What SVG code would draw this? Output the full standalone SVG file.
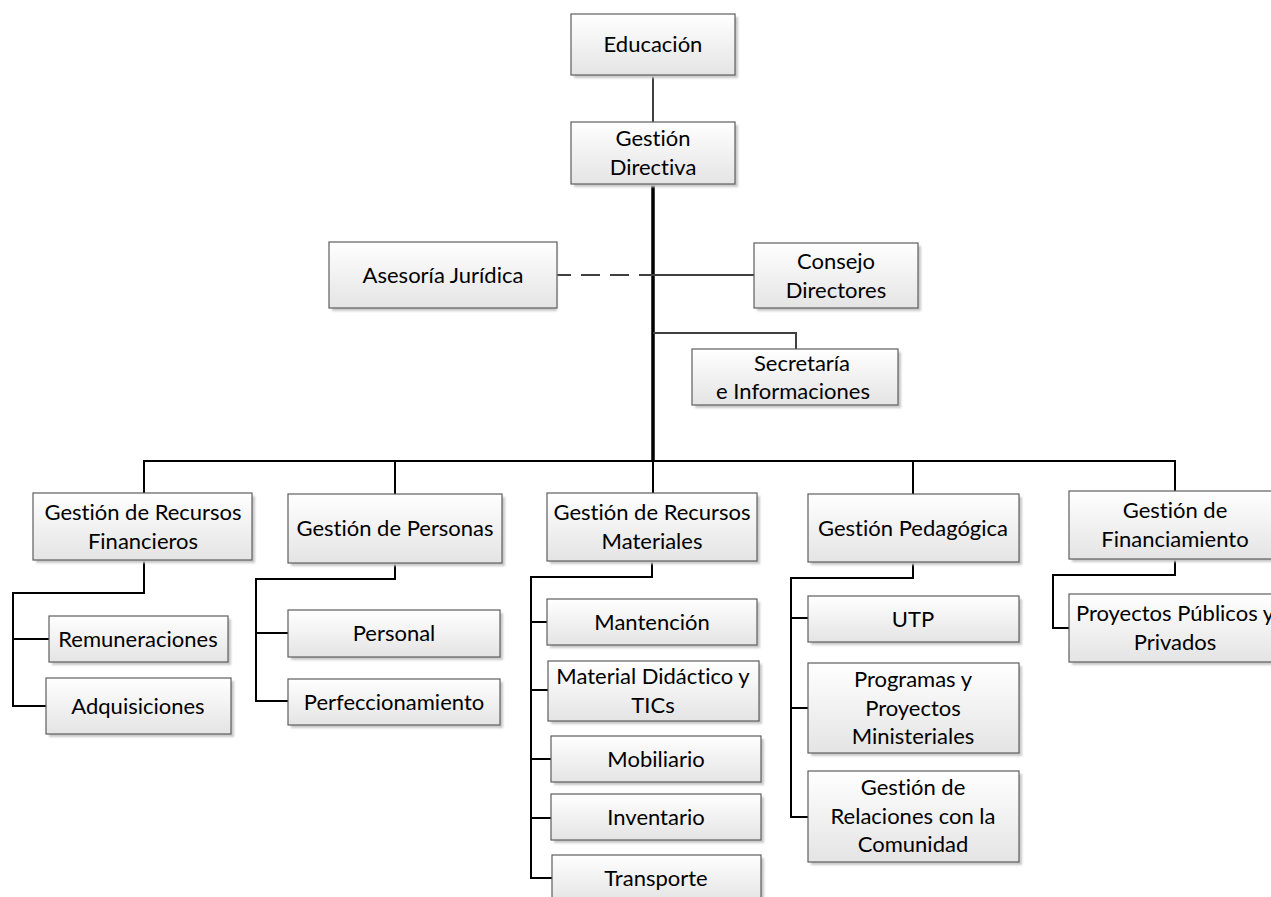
<svg xmlns="http://www.w3.org/2000/svg" width="1271" height="897" viewBox="0 0 1271 897">
<defs>
<linearGradient id="g" x1="0" y1="0" x2="0" y2="1">
<stop offset="0" stop-color="#ffffff"/>
<stop offset="1" stop-color="#e4e4e4"/>
</linearGradient>
<filter id="sh" x="-10%" y="-10%" width="130%" height="140%">
<feGaussianBlur stdDeviation="1.2"/>
</filter>
</defs>
<style>
.b{fill:url(#g);stroke:#5e5e5e;stroke-width:1.2}
.s{fill:#c8c8c8;filter:url(#sh)}
text{font-family:Lato,"Open Sans","Liberation Sans",sans-serif;font-size:22px;fill:#000;text-anchor:middle;font-variant-ligatures:none}
.c{fill:none;stroke:#000;stroke-width:2}
.g{fill:none;stroke:#404040;stroke-width:2}
</style>
<rect width="1271" height="897" fill="#ffffff"/>
<g id="connectors">
<path class="c" style="stroke-width:1.5" d="M653 75V122"/>
<path class="c" style="stroke-width:3.5" d="M653 184V461"/>
<path class="g" d="M557 275H653" stroke-dasharray="14 10 19 10 19 10 14 50"/>
<path class="g" d="M653 275H754"/>
<path class="g" d="M653 333H796V349"/>
<path class="c" d="M144 493V461H1175V491M395 461V494M653 461V493M913 461V494"/>
<path class="c" d="M144 560V593H13V706H46M13 639H49"/>
<path class="c" d="M395 563V579H256V701H288M256 633H288"/>
<path class="c" d="M652 561V577H531V878H552M531 622H547M531 690H548M531 759H551M531 818H551"/>
<path class="c" d="M913 562V578H791V817H808M791 618H808M791 708H808"/>
<path class="c" d="M1175 559V575H1053V628H1069"/>
</g>
<g id="educacion"><rect class="s" x="574" y="17" width="164" height="61"/><rect class="b" x="571" y="14" width="164" height="61"/><text x="653" y="52">Educación</text></g>
<g id="gestion-directiva"><rect class="s" x="574" y="125" width="164" height="62"/><rect class="b" x="571" y="122" width="164" height="62"/><text x="653" y="146">Gestión</text><text x="653" y="175">Directiva</text></g>
<g id="asesoria"><rect class="s" x="332" y="245" width="225" height="66"/><rect class="b" x="329" y="242" width="228" height="66"/><text x="443" y="283">Asesoría Jurídica</text></g>
<g id="consejo"><rect class="s" x="757" y="246" width="164" height="65"/><rect class="b" x="754" y="243" width="164" height="65"/><text x="836" y="269">Consejo</text><text x="836" y="298">Directores</text></g>
<g id="secretaria"><rect class="s" x="695" y="352" width="206" height="56"/><rect class="b" x="692" y="349" width="206" height="56"/><text x="802" y="371">Secretaría</text><text x="793" y="399">e Informaciones</text></g>
<g id="grf"><rect class="s" x="36" y="496" width="219" height="67"/><rect class="b" x="33" y="493" width="219" height="67"/><text x="143" y="520">Gestión de Recursos</text><text x="143" y="549">Financieros</text></g>
<g id="gp"><rect class="s" x="291" y="497" width="214" height="69"/><rect class="b" x="288" y="494" width="214" height="69"/><text x="395" y="536">Gestión de Personas</text></g>
<g id="grm"><rect class="s" x="550" y="496" width="210" height="68"/><rect class="b" x="547" y="493" width="210" height="68"/><text x="652" y="520">Gestión de Recursos</text><text x="652" y="549">Materiales</text></g>
<g id="gped"><rect class="s" x="811" y="497" width="211" height="68"/><rect class="b" x="808" y="494" width="211" height="68"/><text x="913" y="536">Gestión Pedagógica</text></g>
<g id="gfin"><rect class="s" x="1072" y="494" width="212" height="68"/><rect class="b" x="1069" y="491" width="212" height="68"/><text x="1175" y="518">Gestión de</text><text x="1175" y="547">Financiamiento</text></g>
<g id="remuneraciones"><rect class="s" x="52" y="619" width="179" height="46"/><rect class="b" x="49" y="616" width="179" height="46"/><text x="138" y="647">Remuneraciones</text></g>
<g id="adquisiciones"><rect class="s" x="49" y="681" width="185" height="56"/><rect class="b" x="46" y="678" width="185" height="56"/><text x="138" y="714">Adquisiciones</text></g>
<g id="personal"><rect class="s" x="291" y="613" width="212" height="47"/><rect class="b" x="288" y="610" width="212" height="47"/><text x="394" y="641">Personal</text></g>
<g id="perfeccionamiento"><rect class="s" x="291" y="682" width="212" height="46"/><rect class="b" x="288" y="679" width="212" height="46"/><text x="394" y="710">Perfeccionamiento</text></g>
<g id="mantencion"><rect class="s" x="550" y="602" width="210" height="46"/><rect class="b" x="547" y="599" width="210" height="46"/><text x="652" y="630">Mantención</text></g>
<g id="material"><rect class="s" x="551" y="664" width="211" height="60"/><rect class="b" x="548" y="661" width="211" height="60"/><text x="653" y="684">Material Didáctico y</text><text x="653" y="713">TICs</text></g>
<g id="mobiliario"><rect class="s" x="554" y="739" width="210" height="46"/><rect class="b" x="551" y="736" width="210" height="46"/><text x="656" y="767">Mobiliario</text></g>
<g id="inventario"><rect class="s" x="554" y="797" width="210" height="46"/><rect class="b" x="551" y="794" width="210" height="46"/><text x="656" y="825">Inventario</text></g>
<g id="transporte"><rect class="s" x="555" y="858" width="209" height="46"/><rect class="b" x="552" y="855" width="209" height="46"/><text x="656" y="886">Transporte</text></g>
<g id="utp"><rect class="s" x="811" y="599" width="211" height="46"/><rect class="b" x="808" y="596" width="211" height="46"/><text x="913" y="627">UTP</text></g>
<g id="programas"><rect class="s" x="811" y="666" width="211" height="90"/><rect class="b" x="808" y="663" width="211" height="90"/><text x="913" y="687">Programas y</text><text x="913" y="716">Proyectos</text><text x="913" y="744">Ministeriales</text></g>
<g id="relaciones"><rect class="s" x="811" y="774" width="211" height="91"/><rect class="b" x="808" y="771" width="211" height="91"/><text x="913" y="795">Gestión de</text><text x="913" y="824">Relaciones con la</text><text x="913" y="852">Comunidad</text></g>
<g id="proyectos"><rect class="s" x="1072" y="597" width="212" height="68"/><rect class="b" x="1069" y="594" width="212" height="68"/><text x="1175" y="621">Proyectos Públicos y</text><text x="1175" y="650">Privados</text></g>
</svg>
